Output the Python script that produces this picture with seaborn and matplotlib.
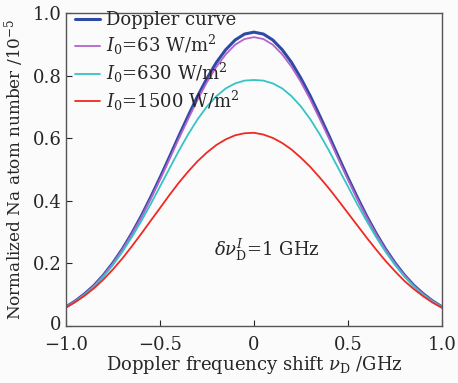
import numpy as np
import pandas as pd
import matplotlib
matplotlib.use("Agg")
import matplotlib.pyplot as plt
import matplotlib.transforms as mtransforms
import seaborn as sns

# ---- data ----
shift_ghz = [-1.0, -0.95, -0.9, -0.85, -0.8, -0.75, -0.7, -0.65, -0.6, -0.55, -0.5,
             -0.45, -0.4, -0.35, -0.3, -0.25, -0.2, -0.15, -0.1, -0.05, 0.0,
             0.05, 0.1, 0.15, 0.2, 0.25, 0.3, 0.35, 0.4, 0.45, 0.5,
             0.55, 0.6, 0.65, 0.7, 0.75, 0.8, 0.85, 0.9, 0.95, 1.0]

doppler = [0.061, 0.080, 0.103, 0.130, 0.163, 0.202, 0.246, 0.296, 0.351, 0.411, 0.474,
           0.540, 0.607, 0.672, 0.735, 0.792, 0.843, 0.884, 0.915, 0.934, 0.940,
           0.934, 0.915, 0.884, 0.843, 0.792, 0.735, 0.672, 0.607, 0.540, 0.474,
           0.411, 0.351, 0.296, 0.246, 0.202, 0.163, 0.130, 0.103, 0.080, 0.061]

i63 = [0.061, 0.080, 0.102, 0.129, 0.162, 0.200, 0.244, 0.293, 0.347, 0.406, 0.468,
       0.533, 0.599, 0.662, 0.724, 0.780, 0.829, 0.869, 0.900, 0.918, 0.924,
       0.918, 0.900, 0.869, 0.829, 0.780, 0.724, 0.662, 0.599, 0.533, 0.468,
       0.406, 0.347, 0.293, 0.244, 0.200, 0.162, 0.129, 0.102, 0.080, 0.061]

i630 = [0.060, 0.078, 0.100, 0.126, 0.158, 0.195, 0.237, 0.284, 0.335, 0.389, 0.446,
        0.503, 0.560, 0.613, 0.661, 0.702, 0.735, 0.760, 0.776, 0.785, 0.787,
        0.785, 0.776, 0.760, 0.735, 0.702, 0.661, 0.613, 0.560, 0.503, 0.446,
        0.389, 0.335, 0.284, 0.237, 0.195, 0.158, 0.126, 0.100, 0.078, 0.060]

i1500 = [0.059, 0.0765, 0.097, 0.121, 0.149, 0.181, 0.216, 0.2544, 0.2945, 0.336, 0.377,
         0.4185, 0.458, 0.494, 0.527, 0.555, 0.579, 0.597, 0.610, 0.6166, 0.618,
         0.6124, 0.6016, 0.5854, 0.5644, 0.538, 0.5085, 0.4748, 0.4391, 0.4005, 0.361,
         0.3215, 0.282, 0.2442, 0.208, 0.175, 0.144, 0.118, 0.095, 0.0745, 0.058]

labels = ["Doppler curve", r"$I_0$=63 W/m$^2$", r"$I_0$=630 W/m$^2$", r"$I_0$=1500 W/m$^2$"]
x_ticks = [-1.0, -0.5, 0.0, 0.5, 1.0]
x_ticklabels = ["\u22121.0", "\u22120.5", "0", "0.5", "1.0"]
y_ticks = [0, 0.2, 0.4, 0.6, 0.8, 1.0]
y_ticklabels = ["0", "0.2", "0.4", "0.6", "0.8", "1.0"]

df = pd.concat([
    pd.DataFrame({"x": shift_ghz, "y": doppler, "series": labels[0]}),
    pd.DataFrame({"x": shift_ghz, "y": i63, "series": labels[1]}),
    pd.DataFrame({"x": shift_ghz, "y": i630, "series": labels[2]}),
    pd.DataFrame({"x": shift_ghz, "y": i1500, "series": labels[3]}),
])

sns.set_style("ticks")
plt.rcParams["font.family"] = ["DejaVu Serif"]
plt.rcParams["mathtext.fontset"] = "dejavuserif"

colors = {labels[0]: "#2f4aa6", labels[1]: "#b563c9", labels[2]: "#35c3c6", labels[3]: "#ef2a22"}
widths = {labels[0]: 2.2, labels[1]: 1.3, labels[2]: 1.3, labels[3]: 1.3}

fig = plt.figure(figsize=(4.58, 3.83), dpi=100, facecolor="#fbfbfb")
ax = fig.add_axes([0.144, 0.149, 0.821, 0.816])
ax.set_facecolor("#fbfbfb")

for lab in labels:
    sub = df[df["series"] == lab]
    sns.lineplot(data=sub, x="x", y="y", ax=ax, color=colors[lab], lw=widths[lab],
                 label=lab, sort=False)

ax.set_xlim(-1.0, 1.0)
ax.set_ylim(0, 1.0)
ax.set_xticks(x_ticks)
ax.set_xticklabels(x_ticklabels)
ax.set_yticks(y_ticks)
ax.set_yticklabels(y_ticklabels)
ax.tick_params(direction="in", length=4, width=0.8, labelsize=13,
               top=False, right=False)
ax.tick_params(axis="x", pad=7)
ax.tick_params(axis="y", pad=3)
for s in ax.spines.values():
    s.set_visible(True)
    s.set_color("#555555")
    s.set_linewidth(1.0)

# lift the "0" y tick label slightly, as in the reference
ylab0 = ax.get_yticklabels()[0]
ylab0.set_transform(ylab0.get_transform() +
                    mtransforms.ScaledTranslation(0, 3 / 100, fig.dpi_scale_trans))

ax.set_xlabel(r"Doppler frequency shift $\nu_{\rm D}$ /GHz", fontsize=13, labelpad=0)
ax.set_ylabel(r"Normalized Na atom number /10$^{-5}$", fontsize=12.2, labelpad=5)

ax.text(0.07, 0.243, r"$\delta\nu_{\rm D}^{I}$=1 GHz", fontsize=13, ha="center", va="center")

leg = ax.legend(loc="upper left", frameon=False, fontsize=13, handlelength=1.4,
                handletextpad=0.3, labelspacing=0.2, borderaxespad=0.1,
                bbox_to_anchor=(0.0, 1.035))

fig.savefig("out.png", dpi=100, facecolor=fig.get_facecolor())
